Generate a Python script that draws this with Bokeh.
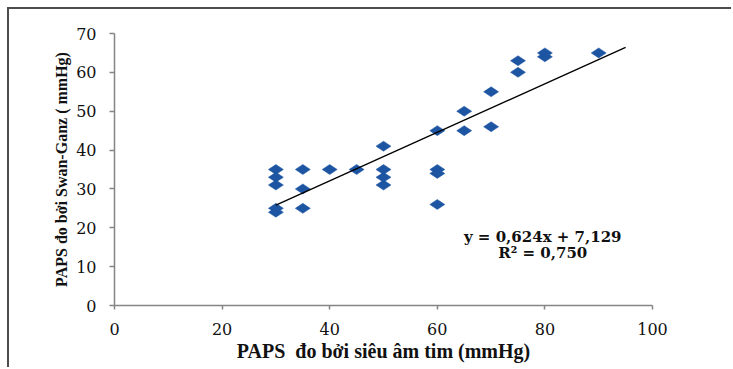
import math
from bokeh.plotting import figure
from bokeh.models import Label, Range1d, FixedTicker
from bokeh.embed import file_html
from bokeh.resources import INLINE

# Data
paps_echo = [30, 30, 30, 30, 30, 35, 35, 35, 40, 45, 50, 50, 50, 50,
             60, 60, 60, 60, 65, 65, 70, 70, 75, 75, 80, 80, 90]
paps_swan = [35, 33, 31, 25, 24, 35, 30, 25, 35, 35, 41, 35, 33, 31,
             45, 35, 34, 26, 50, 45, 55, 46, 63, 60, 65, 64, 65]

trend_slope = 0.624
trend_intercept = 7.129
trend_x = [30, 95]
trend_y = [trend_slope * v + trend_intercept for v in trend_x]

x_ticks = [0, 20, 40, 60, 80, 100]
y_ticks = [0, 10, 20, 30, 40, 50, 60, 70]

eq_text = "y = 0,624x + 7,129"
r2_text = "R² = 0,750"
x_title = "PAPS \u00a0đo bởi siêu âm tim (mmHg)"
y_title = "PAPS đo bởi Swan-Ganz ( mmHg)"

W, H = 724, 360
p = figure(width=W, height=H, x_range=Range1d(0, 100), y_range=Range1d(0, 70),
           output_backend="svg", toolbar_location=None,
           min_border_left=105, min_border_right=81,
           min_border_top=24, min_border_bottom=64)
p.margin = (9, 0, 0, 9)
p.styles = {"box-shadow": "-2px -2px 0 0 #4d4d4d"}
p.outline_line_color = None
p.grid.grid_line_color = None
p.background_fill_color = "white"
p.border_fill_color = "white"

for ax, ticks in ((p.xaxis, x_ticks), (p.yaxis, y_ticks)):
    ax.ticker = FixedTicker(ticks=ticks)
    ax.minor_tick_line_color = None
    ax.axis_line_color = "#858585"
    ax.axis_line_width = 1.5
    ax.major_tick_line_color = "#858585"
    ax.major_tick_line_width = 1.5
    ax.major_tick_in = 0
    ax.major_label_text_font = "DejaVu Serif"
    ax.major_label_text_font_size = "16px"
    ax.major_label_text_color = "#111111"
    ax.axis_label_text_font = "Liberation Serif"
    ax.axis_label_text_font_style = "bold"
    ax.axis_label_text_color = "#111111"

p.xaxis.major_tick_out = 4
p.yaxis.major_tick_out = 5
p.xaxis.major_label_standoff = 13
p.yaxis.major_label_standoff = 13

p.xaxis.axis_label = x_title
p.xaxis.axis_label_text_font_size = "20px"
p.xaxis.axis_label_standoff = 2
p.yaxis.axis_label = y_title
p.yaxis.axis_label_text_font_size = "16px"
p.yaxis.axis_label_standoff = 3

p.scatter(paps_echo, paps_swan, marker="diamond", size=15, angle=math.pi / 2,
          fill_color="#1d55a2", line_color="#1d55a2", line_width=0.5)
p.line(trend_x, trend_y, line_color="black", line_width=1.3)

p.add_layout(Label(x=79.6, y=17.6, text=eq_text, text_align="center",
                   text_baseline="middle", text_font="DejaVu Serif",
                   text_font_style="bold", text_font_size="15px", text_color="#111111"))
p.add_layout(Label(x=79.6, y=13.6, text=r2_text, text_align="center",
                   text_baseline="middle", text_font="DejaVu Serif",
                   text_font_style="bold", text_font_size="15px", text_color="#111111"))

open("out.html", "w").write(file_html(p, INLINE))
